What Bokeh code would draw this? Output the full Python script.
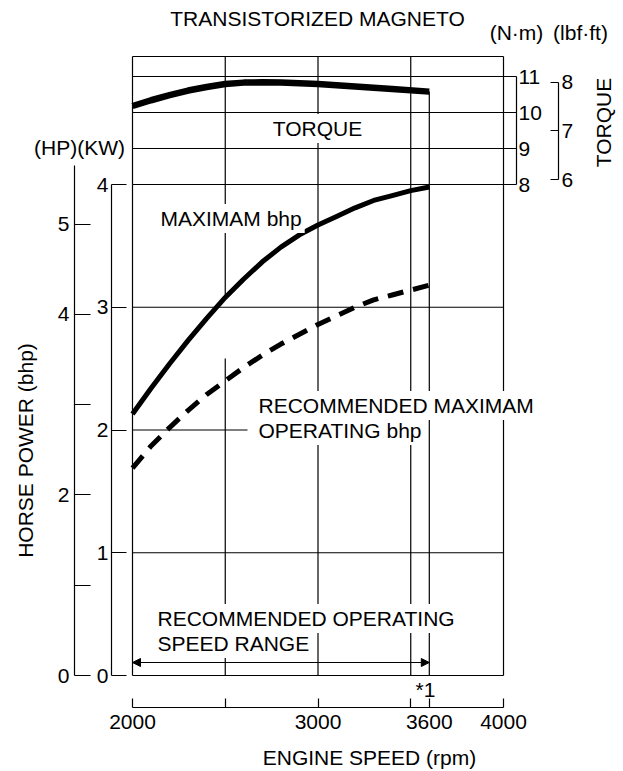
from bokeh.plotting import figure
from bokeh.models import Range1d, LinearAxis, FixedTicker, Label, Arrow, NormalHead
from bokeh.embed import file_html
from bokeh.resources import INLINE
import math

# ---------------- data ----------------
rpm = [2000, 2100, 2200, 2300, 2400, 2500, 2600, 2700, 2800, 2900, 3000,
       3100, 3200, 3300, 3400, 3500, 3600]
max_kw = [2.13, 2.34, 2.54, 2.73, 2.91, 3.08, 3.23, 3.37, 3.49, 3.59, 3.67,
          3.74, 3.81, 3.87, 3.91, 3.95, 3.98]
rec_kw = [1.69, 1.87, 2.02, 2.16, 2.29, 2.40, 2.51, 2.61, 2.70, 2.78, 2.86,
          2.93, 3.00, 3.06, 3.10, 3.14, 3.18]

torque_rpm = [2000, 2100, 2200, 2300, 2400, 2500, 2600, 2700, 2800, 3000, 3200, 3400, 3600]
torque_nm = [10.18, 10.34, 10.48, 10.61, 10.71, 10.79, 10.83, 10.84, 10.83, 10.79, 10.72, 10.65, 10.58]

speed_grid = [2000, 2500, 3000, 3500, 3600, 4000]
speed_ticks = [2000, 2500, 3000, 3500, 3600, 4000]
speed_labels = {2000: "2000", 2500: "", 3000: "3000", 3500: "", 3600: "3600", 4000: "4000"}
kw_ticks = [0, 1, 2, 3, 4]
hp_ticks = [0, 1, 2, 3, 4, 5]
hp_labels = {0: "0", 1: "", 2: "2", 3: "", 4: "4", 5: "5"}
nm_ticks = [8, 9, 10, 11]
lbf_ticks = [6, 7, 8]
kw_grid_full = [0, 1, 3]
kw_grid_short = [2]
nm_grid = [8, 9, 10, 11]
speed_range = [2000, 3600]

KW_PER_HP = 0.7355
NM_PER_LBFFT = 1.35582

# ---------------- layout (page pixels) ----------------
W, H = 623, 771
M = 0
PX_X2000, PX_X4000 = 132, 503
PX_KW0, PX_PER_KW = 675, 122.75
PX_NM8, PX_PER_NM = 184, 36.0
ppr = (PX_X4000 - PX_X2000) / 2000.0

def xd(px):
    return 2000 + (px - PX_X2000) / ppr

def yk(py):
    return (PX_KW0 - py) / PX_PER_KW

def yt(py):
    return 8 + (PX_NM8 - py) / PX_PER_NM

FONT = "Liberation Sans"
FS = "21px"

p = figure(width=W, height=H, x_range=Range1d(xd(M), xd(M + W)),
           y_range=Range1d(yk(M + H), yk(M)),
           x_axis_type=None, y_axis_type=None, toolbar_location=None,
           output_backend="svg", min_border=0, outline_line_color=None,
           title=None)
p.extra_y_ranges = {
    "torque": Range1d(yt(M + H), yt(M)),
    "lbf": Range1d(yt(M + H) / NM_PER_LBFFT, yt(M) / NM_PER_LBFFT),
    "hp": Range1d(yk(M + H) / KW_PER_HP, yk(M) / KW_PER_HP),
}
p.xgrid.visible = False
p.ygrid.visible = False

LW = 1.2
top_nm = yt(56)

# vertical grid lines: torque panel
x0s, y0s, x1s, y1s = [], [], [], []
for s in speed_grid:
    x0s.append(s); x1s.append(s)
    if s == speed_range[1]:
        y0s.append(torque_nm[-1])
    else:
        y0s.append(top_nm)
    y1s.append(8)
p.segment(x0s, y0s, x1s, y1s, y_range_name="torque", line_color="black", line_width=LW)
# top frame + torque horizontals
p.segment([speed_grid[0]], [top_nm], [speed_grid[-1]], [top_nm], y_range_name="torque",
          line_color="black", line_width=LW)
p.segment([speed_grid[0]] * len(nm_grid), nm_grid, [xd(516)] * len(nm_grid), nm_grid,
          y_range_name="torque", line_color="black", line_width=LW)

# vertical grid lines: power panel (the 2500 line is broken under the max curve)
vx0, vy0, vx1, vy1 = [], [], [], []
gap_kw = max_kw[rpm.index(2500)]
for s in speed_grid:
    if s == 2500:
        vx0 += [s, s]; vx1 += [s, s]
        vy0 += [0, gap_kw]; vy1 += [yk(358), 4]
    else:
        vx0.append(s); vx1.append(s); vy0.append(0); vy1.append(4)
p.segment(vx0, vy0, vx1, vy1, line_color="black", line_width=LW)
p.segment([speed_grid[0]] * len(kw_grid_full), kw_grid_full,
          [speed_grid[-1]] * len(kw_grid_full), kw_grid_full, line_color="black", line_width=LW)
p.segment([speed_grid[0]] * len(kw_grid_short), kw_grid_short,
          [xd(247)] * len(kw_grid_short), kw_grid_short, line_color="black", line_width=LW)

# curves
p.line(torque_rpm, torque_nm, y_range_name="torque", line_color="black", line_width=6.5,
       line_cap="butt", line_join="round")
p.line(rpm, max_kw, line_color="black", line_width=5, line_cap="butt", line_join="round")
p.line(rpm, rec_kw, line_color="black", line_width=5, line_dash="16 10", line_cap="butt",
       line_join="round")

# arrow (recommended operating speed range)
ya = yk(662)
p.add_layout(Arrow(x_start=speed_range[0], y_start=ya, x_end=speed_range[1], y_end=ya,
                   line_width=1, line_color="black",
                   start=NormalHead(size=8, fill_color="black", line_color="black", line_width=1),
                   end=NormalHead(size=8, fill_color="black", line_color="black", line_width=1)))

def style(ax, standoff):
    ax.axis_line_color = "black"
    ax.axis_line_width = LW
    ax.major_tick_line_color = "black"
    ax.major_tick_line_width = LW
    ax.minor_tick_line_color = None
    ax.major_label_text_font = FONT
    ax.major_label_text_font_size = FS
    ax.major_label_text_color = "black"
    ax.major_label_standoff = standoff

# bottom speed axis
bx = LinearAxis(fixed_location=yk(707), bounds=(speed_ticks[0], speed_ticks[-1]),
                ticker=FixedTicker(ticks=speed_ticks), major_label_overrides=speed_labels)
style(bx, 7)
bx.major_tick_in = 9
bx.major_tick_out = 0
p.add_layout(bx, "below")

# kW axis
kx = LinearAxis(fixed_location=xd(111), bounds=(0, 4), ticker=FixedTicker(ticks=kw_ticks))
style(kx, 3)
kx.major_tick_in = 15
kx.major_tick_out = 0
p.add_layout(kx, "left")

# HP axis
hx = LinearAxis(y_range_name="hp", fixed_location=xd(74), bounds=(0, yk(165) / KW_PER_HP),
                ticker=FixedTicker(ticks=hp_ticks), major_label_overrides=hp_labels)
style(hx, 5)
hx.major_tick_in = 16
hx.major_tick_out = 0
p.add_layout(hx, "left")

# N·m axis
nx = LinearAxis(y_range_name="torque", fixed_location=xd(516), bounds=(8, 11),
                ticker=FixedTicker(ticks=nm_ticks))
style(nx, 2)
nx.major_tick_in = 0
nx.major_tick_out = 0
p.add_layout(nx, "right")

# lbf·ft axis
lx = LinearAxis(y_range_name="lbf", fixed_location=xd(558), bounds=(6, 8),
                ticker=FixedTicker(ticks=lbf_ticks))
style(lx, 3)
lx.major_tick_in = 8
lx.major_tick_out = 0
p.add_layout(lx, "right")

def lab(text, px, py, align="center", angle=0.0, bg=False):
    kw = dict(x=xd(px), y=yk(py), text=text, text_font=FONT, text_font_size=FS,
              text_color="black", text_align=align, text_baseline="middle", angle=angle)
    if bg:
        kw.update(background_fill_color="white", padding=3)
    p.add_layout(Label(**kw))

lab("TRANSISTORIZED MAGNETO", 317, 18)
lab("(N·m)", 516, 32)
lab("(lbf·ft)", 580, 32)
lab("(HP)(KW)", 79, 147)
lab("TORQUE", 317, 128, bg=True)
lab("TORQUE", 603, 122, angle=math.pi / 2)
lab("MAXIMAM bhp", 157, 218, align="left", bg=True)
lab("RECOMMENDED MAXIMAM", 255, 405, align="left", bg=True)
lab("OPERATING bhp", 255, 430, align="left", bg=True)
lab("RECOMMENDED OPERATING", 154, 618, align="left", bg=True)
lab("SPEED RANGE", 154, 643, align="left", bg=True)
lab("*1", 425, 689)
lab("HORSE POWER (bhp)", 25, 450, angle=math.pi / 2)
lab("ENGINE SPEED (rpm)", 369, 757)

open("out.html", "w").write(file_html(p, INLINE))
